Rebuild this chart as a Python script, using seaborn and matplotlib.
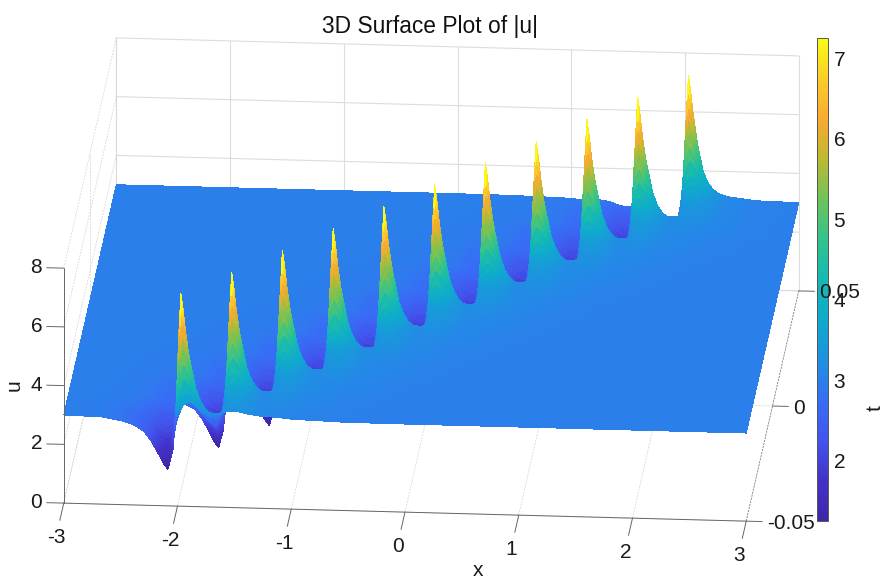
import matplotlib
matplotlib.use("Agg")
import matplotlib.pyplot as plt
import numpy as np
import seaborn as sns
from matplotlib.cm import ScalarMappable
from matplotlib.colors import Normalize
from mpl_toolkits.mplot3d import proj3d

# spikes
peak_x = [-1.97, -1.57, -1.17, -0.77, -0.37, 0.03, 0.43, 0.83, 1.23, 1.63, 2.03]
peak_t = [-0.05, -0.04, -0.03, -0.02, -0.01, 0.0, 0.01, 0.02, 0.03, 0.04, 0.05]
background_u = 3.0

# shape of one spike: u above background, by distance in x (columns) and in t (rows)
dx_nodes = [-1.0, -0.7, -0.5, -0.4, -0.32, -0.26, -0.2, -0.155, -0.114, -0.07, -0.04, -0.02,
            0.0, 0.02, 0.04, 0.08, 0.13, 0.17, 0.21, 0.27, 0.35, 0.6, 1.0]
dt_nodes = [-0.025, -0.015, -0.0096, -0.006, -0.0036, -0.0021, -0.0012, -0.0006, 0.0,
            0.0006, 0.0012, 0.0021, 0.004, 0.01, 0.02, 0.035, 0.05]
front_7 = [0] * 23
front_6 = [0, 0, 0, 0, 0, 0, 0, 0, 0, 0.02, 0.04, 0.05, 0.05, 0.05, 0.06, 0.06, 0.07, 0.07, 0.07, 0.065, 0.06, 0.02, 0]
front_5 = [0, 0, -0.01, -0.02, -0.03, -0.05, -0.08, -0.1, -0.05, 0.0, 0.06, 0.11, 0.14, 0.16, 0.18, 0.2, 0.2, 0.18, 0.16, 0.13, 0.1, 0.02, 0]
front_4 = [0, -0.01, -0.03, -0.05, -0.09, -0.2, -0.4, -0.55, -0.6, -0.3, 0.05, 0.25, 0.33, 0.4, 0.42, 0.42, 0.36, 0.3, 0.24, 0.17, 0.12, 0.03, 0]
front_3 = [0, -0.01, -0.05, -0.08, -0.14, -0.28, -0.5, -0.72, -0.85, -0.3, 0.2, 0.5, 0.62, 0.72, 0.75, 0.68, 0.5, 0.4, 0.3, 0.19, 0.13, 0.03, 0]
front_2 = [0, -0.02, -0.07, -0.13, -0.2, -0.36, -0.6, -0.9, -1.1, -0.25, 0.5, 1.0, 1.3, 1.4, 1.35, 1.1, 0.75, 0.54, 0.38, 0.22, 0.14, 0.03, 0]
front_1 = [0, -0.02, -0.1, -0.17, -0.28, -0.48, -0.75, -1.0, -1.2, -0.5, 0.9, 1.9, 2.3, 2.4, 2.2, 1.65, 0.95, 0.62, 0.42, 0.24, 0.15, 0.03, 0]
front_0 = [0, -0.03, -0.12, -0.22, -0.35, -0.6, -0.9, -1.25, -1.5, -0.7, 1.1, 2.6, 3.2, 3.1, 2.8, 1.95, 1.05, 0.65, 0.42, 0.24, 0.15, 0.03, 0]
center = [0, -0.03, -0.16, -0.3, -0.51, -0.82, -1.22, -1.55, -1.75, -1.1, 0.7, 2.8, 4.25, 3.7, 3.0, 1.9, 1.0, 0.62, 0.4, 0.23, 0.14, 0.03, 0]
back_0 = [0, -0.03, -0.15, -0.29, -0.5, -0.8, -1.2, -1.5, -1.65, -0.9, 0.6, 2.2, 3.2, 3.1, 2.7, 1.9, 1.0, 0.62, 0.4, 0.23, 0.14, 0.03, 0]
back_1 = [0, -0.03, -0.15, -0.28, -0.5, -0.78, -1.15, -1.4, -1.5, -0.8, 0.3, 1.4, 2.2, 2.3, 2.1, 1.5, 0.9, 0.56, 0.35, 0.2, 0.12, 0.03, 0]
back_2 = [0, -0.03, -0.15, -0.28, -0.48, -0.74, -1.05, -1.27, -1.35, -0.8, 0.0, 0.6, 1.0, 1.1, 1.1, 0.9, 0.6, 0.38, 0.25, 0.15, 0.1, 0.02, 0]
back_3 = [0, -0.03, -0.14, -0.26, -0.45, -0.66, -0.9, -1.0, -1.0, -0.6, -0.2, 0.0, 0.15, 0.25, 0.3, 0.3, 0.22, 0.15, 0.1, 0.07, 0.05, 0.01, 0]
back_4 = [0, -0.01, -0.03, -0.05, -0.08, -0.12, -0.16, -0.16, -0.14, -0.1, -0.06, -0.04, -0.03, -0.02, 0, 0.02, 0.02, 0.02, 0.01, 0, 0, 0, 0]
back_5 = [0, 0, -0.01, -0.02, -0.03, -0.04, -0.05, -0.05, -0.05, -0.04, -0.03, -0.02, -0.01, 0, 0, 0, 0, 0, 0, 0, 0, 0, 0]
back_6 = [0] * 23
back_7 = [0] * 23

x_ticks = [-3, -2, -1, 0, 1, 2, 3]
t_ticks = [-0.05, 0, 0.05]
t_labels = ["-0.05", "0", "0.05"]
u_ticks = [0, 2, 4, 6, 8]
cbar_ticks = [2, 3, 4, 5, 6, 7]
u_min, u_max = 1.255, 7.25
cmap_colors = ["#3E26A8", "#4332C8", "#4254EE", "#376EF5", "#1E91E1", "#0FAACD", "#14B9B4",
               "#32C38C", "#6EC35A", "#BEB932", "#FAAA32", "#FACD28", "#FAFA14"]


def build_surface():
    xs = np.linspace(-3, 3, 481)
    ts = np.linspace(-0.05, 0.05, 101)
    fine_x = np.arange(-0.16, 0.16, 0.005)
    fine_t = np.array([0.0003, 0.0009, 0.0016, 0.003, 0.0048, 0.008]) * np.array([[-1], [1]])
    xs = np.concatenate([xs] + [x0 + fine_x for x0 in peak_x] + [np.array(peak_x)])
    ts = np.concatenate([ts] + [t0 + fine_t.ravel() for t0 in peak_t] + [t0 + np.array(dt_nodes) for t0 in peak_t])
    xs = np.unique(np.round(xs[(xs >= -3) & (xs <= 3)], 4))
    ts = np.unique(np.round(ts[(ts >= -0.05) & (ts <= 0.05)], 5))

    rows = [front_7, front_6, front_5, front_4, front_3, front_2, front_1, front_0, center,
            back_0, back_1, back_2, back_3, back_4, back_5, back_6, back_7]
    nodes = np.array(dt_nodes)
    u = np.full((len(ts), len(xs)), background_u)
    for x0, t0 in zip(peak_x, peak_t):
        per_row = np.array([np.interp(xs - x0, dx_nodes, r, left=0, right=0) for r in rows])
        gap = ts - t0
        i = np.clip(np.searchsorted(nodes, gap) - 1, 0, len(nodes) - 2)
        w = np.clip((gap - nodes[i]) / (nodes[i + 1] - nodes[i]), 0, 1)[:, None]
        u += per_row[i] * (1 - w) + per_row[i + 1] * w
    return xs, ts, u


def face_values(u):
    # colour a cell by its most extreme corner, so the tips keep their yellow and the dips their indigo
    corners = np.stack([u[:-1, :-1], u[1:, :-1], u[:-1, 1:], u[1:, 1:]])
    hi = corners.max(axis=0)
    lo = corners.min(axis=0)
    faces = np.where(hi - background_u >= background_u - lo, hi, lo)
    out = u.copy()
    out[:-1, :-1] = faces
    return out


def to_screen(ax, xv, yv, zv):
    ax.apply_aspect()
    px, py, _ = proj3d.proj_transform(np.atleast_1d(xv), np.atleast_1d(yv), np.atleast_1d(zv), ax.get_proj())
    return ax.transData.transform(np.column_stack([px, py]))


def fit_axes(fig, ax):
    # floor corners of the box as they sit in the picture, y counted from the top
    W, H = fig.get_size_inches() * fig.dpi
    corners = np.array([[-3, -0.05, 0], [3, -0.05, 0], [-3, 0.05, 0], [3, 0.05, 0]], float)
    wanted = np.array([[62, 503], [748, 521], [118, 273], [797, 291]], float)
    wanted[:, 1] = H - wanted[:, 1]
    now = to_screen(ax, corners[:, 0], corners[:, 1], corners[:, 2])
    zoom = np.ptp(wanted[:, 0]) / np.ptp(now[:, 0])
    ax.set_box_aspect(box_aspect, zoom=zoom)
    now = to_screen(ax, corners[:, 0], corners[:, 1], corners[:, 2])
    shift = wanted.mean(axis=0) - now.mean(axis=0)
    p = ax.get_position()
    ax.set_position([p.x0 + shift[0] / W, p.y0 + shift[1] / H, p.width, p.height])


def box_label(fig, ax, xv, yv, zv, text, **kw):
    W, H = fig.get_size_inches() * fig.dpi
    sx, sy = to_screen(ax, xv, yv, zv)[0]
    fig.text(sx / W, sy / H, text, va="center", fontsize=15, color="#1a1a1a", **kw)


sns.set_theme(style="white", font="Liberation Sans")
plt.rcParams["font.family"] = ["Liberation Sans", "DejaVu Sans"]

fig = plt.figure(figsize=(8.87, 5.81), dpi=100)
# oversized square so nothing gets clipped at the box of the 3d axes
ax = fig.add_axes([-0.15, -0.45, 1.3, 1.3 * 887 / 581], projection="3d", proj_type="ortho")
ax.patch.set_alpha(0)
ax.computed_zorder = False
ax.view_init(elev=19.9, azim=-85.56)
box_aspect = (684.6, 678.6, 249.9)
ax.set_box_aspect(box_aspect)
ax.set_xlim(-3, 3)
ax.set_ylim(-0.05, 0.05)
ax.set_zlim(0, 8)
ax.set_axis_off()
fit_axes(fig, ax)

grid_solid = dict(color="#dcdcdc", lw=0.8, zorder=1)
grid_thin = dict(color="#d4d4d4", lw=0.5, ls=(0, (3, 1.5)), zorder=1)
axis_line = dict(color="#666666", lw=0.7, zorder=3)

# back wall and side wall
for xv in x_ticks:
    ax.plot([xv, xv], [0.05, 0.05], [0, 8], **grid_solid)
    ax.plot([xv, xv], [-0.05, 0.05], [0, 0], **grid_thin)
for uv in u_ticks:
    ax.plot([-3, 3], [0.05, 0.05], [uv, uv], **grid_solid)
    ax.plot([-3, -3], [-0.05, 0.05], [uv, uv], **grid_thin)
for tv in t_ticks:
    ax.plot([-3, -3], [tv, tv], [0, 8], **grid_thin)
    ax.plot([-3, 3], [tv, tv], [0, 0], **grid_thin)

xs, ts, u = build_surface()
X, T = np.meshgrid(xs, ts)
norm = Normalize(u_min, u_max)
cmap = sns.blend_palette(cmap_colors, n_colors=256, as_cmap=True)
ax.plot_surface(X, T, u, facecolors=cmap(norm(face_values(u))), rstride=1, cstride=1, shade=False,
                linewidth=0, antialiased=False, zorder=2)

# axes, ticks and their labels
ax.plot([-3, 3], [-0.05, -0.05], [0, 0], **axis_line)
ax.plot([-3, -3], [-0.05, -0.05], [0, 8], **axis_line)
ax.plot([3, 3], [-0.05, 0.05], [0, 0], color="#777777", lw=0.5, ls=(0, (3, 1.5)), zorder=3)
for xv in x_ticks:
    ax.plot([xv, xv], [-0.05, -0.0575], [0, 0], **axis_line)
    box_label(fig, ax, xv, -0.0635, -0.1, str(xv), ha="center")
for tv, lab in zip(t_ticks, t_labels):
    ax.plot([3, 3.14], [tv, tv], [0, 0], **axis_line)
    box_label(fig, ax, 3.18, tv, -0.05, lab, ha="left")
for uv in u_ticks:
    ax.plot([-3, -3.15], [-0.05, -0.05], [uv, uv], **axis_line)
    box_label(fig, ax, -3.19, -0.05, uv, str(uv), ha="right")

fig.text(430 / 887, 1 - 27 / 581, "3D Surface Plot of |u|", ha="center", va="center", fontsize=16.4, color="#111111")
fig.text(478 / 887, 1 - 576 / 581, "x", ha="center", va="baseline", fontsize=15, color="#1a1a1a")
fig.text(14 / 887, 1 - 385 / 581, "u", ha="center", va="center", rotation=90, fontsize=15, color="#1a1a1a")
fig.text(875 / 887, 1 - 408 / 581, "t", ha="center", va="center", rotation=90, fontsize=15, color="#1a1a1a")

cax = fig.add_axes([817 / 887, 1 - 521 / 581, 11 / 887, 483 / 581])
cbar = fig.colorbar(ScalarMappable(norm=norm, cmap=cmap), cax=cax)
cbar.set_ticks(cbar_ticks)
cax.tick_params(labelsize=15, direction="in", length=3, width=0.6, color="#444444", labelcolor="#1a1a1a", pad=4)
cbar.outline.set_linewidth(0.7)
cbar.outline.set_edgecolor("#555555")

fig.savefig("out.png", dpi=100)
